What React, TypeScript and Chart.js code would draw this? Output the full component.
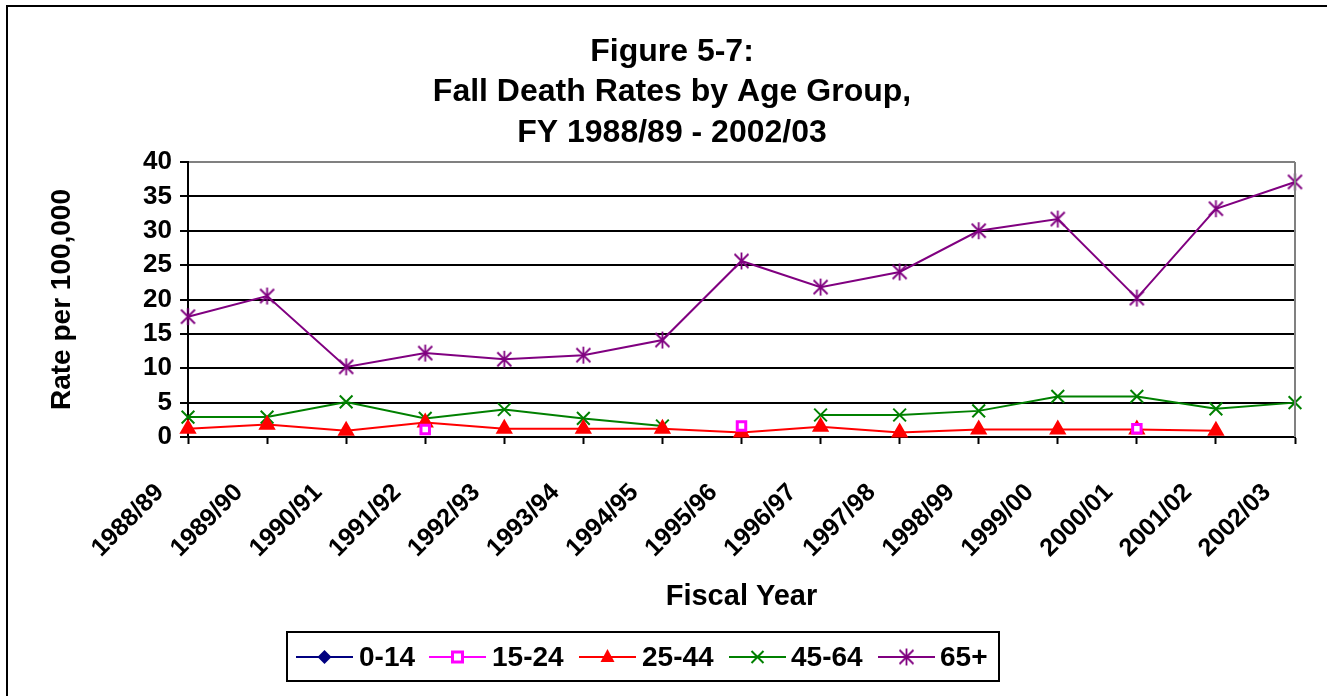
import React, { useEffect, useRef } from 'react';
import { Chart, registerables } from 'chart.js';

Chart.register(...registerables);

const categories = [
  '1988/89', '1989/90', '1990/91', '1991/92', '1992/93', '1993/94', '1994/95', '1995/96',
  '1996/97', '1997/98', '1998/99', '1999/00', '2000/01', '2001/02', '2002/03',
];

const age0to14: (number | null)[] = [null, null, null, null, null, null, null, null, null, null, null, null, null, null, null];
const age15to24: (number | null)[] = [null, null, null, 1.1, null, null, null, 1.6, null, null, null, null, 1.2, null, null];
const age25to44: (number | null)[] = [1.2, 1.8, 0.9, 2.1, 1.2, 1.2, 1.2, 0.65, 1.5, 0.65, 1.1, 1.1, 1.1, 0.9, null];
const age45to64: (number | null)[] = [2.9, 2.9, 5.1, 2.7, 4.0, 2.7, 1.6, null, 3.2, 3.2, 3.8, 5.9, 5.9, 4.1, 5.0];
const age65plus: (number | null)[] = [17.5, 20.5, 10.2, 12.2, 11.3, 11.9, 14.1, 25.6, 21.8, 24.0, 30.0, 31.7, 20.2, 33.2, 37.1];

const seriesNames = ['0-14', '15-24', '25-44', '45-64', '65+'];
const seriesColors = ['#000080', '#FF00FF', '#FF0000', '#008000', '#800080'];

const titleLines = ['Figure 5-7:', 'Fall Death Rates by Age Group,', 'FY 1988/89 - 2002/03'];
const yAxisTitle = 'Rate per 100,000';
const xAxisTitle = 'Fiscal Year';
const yTickValues = [0, 5, 10, 15, 20, 25, 30, 35, 40];
const yMin = 0;
const yMax = 40;

const FONT = '"Liberation Sans", Arial, sans-serif';

function makeStar(color: string): HTMLCanvasElement {
  const c = document.createElement('canvas');
  c.width = 19;
  c.height = 19;
  const g = c.getContext('2d')!;
  g.strokeStyle = color;
  g.lineWidth = 1.8;
  g.beginPath();
  g.moveTo(2.5, 2.5); g.lineTo(16.5, 16.5);
  g.moveTo(16.5, 2.5); g.lineTo(2.5, 16.5);
  g.moveTo(9.5, 1); g.lineTo(9.5, 18);
  g.stroke();
  return c;
}

export default function App() {
  const ref = useRef<HTMLCanvasElement>(null);

  useEffect(() => {
    document.body.style.margin = '0';
    const star = makeStar(seriesColors[4]);

    const drawMarker = (ctx: CanvasRenderingContext2D, idx: number, x: number, y: number) => {
      const col = seriesColors[idx];
      ctx.save();
      ctx.fillStyle = col;
      ctx.strokeStyle = col;
      if (idx === 0) {
        ctx.beginPath();
        ctx.moveTo(x, y - 7); ctx.lineTo(x + 7, y); ctx.lineTo(x, y + 7); ctx.lineTo(x - 7, y);
        ctx.closePath(); ctx.fill();
      } else if (idx === 1) {
        ctx.fillStyle = '#fff';
        ctx.fillRect(x - 5, y - 5, 10, 10);
        ctx.lineWidth = 3;
        ctx.strokeRect(x - 5, y - 5, 10, 10);
      } else if (idx === 2) {
        ctx.beginPath();
        ctx.moveTo(x, y - 8); ctx.lineTo(x + 7, y + 5); ctx.lineTo(x - 7, y + 5);
        ctx.closePath(); ctx.fill();
      } else if (idx === 3) {
        ctx.lineWidth = 2;
        ctx.beginPath();
        ctx.moveTo(x - 6, y - 6); ctx.lineTo(x + 6, y + 6);
        ctx.moveTo(x + 6, y - 6); ctx.lineTo(x - 6, y + 6);
        ctx.stroke();
      } else {
        ctx.drawImage(star, x - 9.5, y - 9.5);
      }
      ctx.restore();
    };

    const decor = {
      id: 'decor',
      afterDraw(chart: any) {
        const ctx: CanvasRenderingContext2D = chart.ctx;
        const area = chart.chartArea;
        ctx.save();
        // outer frame
        ctx.fillStyle = '#000';
        ctx.fillRect(6, 5, 2, 700);
        ctx.fillRect(6, 5, 1330, 2);
        // plot right border
        ctx.strokeStyle = '#808080';
        ctx.lineWidth = 2;
        ctx.beginPath();
        ctx.moveTo(area.right, area.top);
        ctx.lineTo(area.right, area.bottom);
        ctx.stroke();
        // title
        ctx.fillStyle = '#000';
        ctx.font = `bold 32px ${FONT}`;
        ctx.textAlign = 'center';
        ctx.textBaseline = 'middle';
        const ty = [52, 92, 133];
        titleLines.forEach((t, i) => ctx.fillText(t, 672, ty[i]));
        // legend
        ctx.lineWidth = 2;
        ctx.strokeStyle = '#000';
        ctx.strokeRect(287, 632, 712, 49);
        const ly = 657;
        const lineStart = [296, 429, 579, 729, 878];
        const textStart = [359, 492, 642, 791, 940];
        ctx.font = `bold 28px ${FONT}`;
        ctx.textAlign = 'left';
        seriesNames.forEach((name, i) => {
          ctx.strokeStyle = seriesColors[i];
          ctx.lineWidth = 2;
          ctx.beginPath();
          ctx.moveTo(lineStart[i], ly);
          ctx.lineTo(lineStart[i] + 57, ly);
          ctx.stroke();
          drawMarker(ctx, i, lineStart[i] + 28.5, ly);
          ctx.fillStyle = '#000';
          ctx.fillText(name, textStart[i], ly + 1);
        });
        ctx.restore();
      },
    };

    const chart = new Chart(ref.current!, {
      type: 'line',
      data: {
        labels: categories,
        datasets: [
          {
            label: seriesNames[0], data: age0to14, borderColor: seriesColors[0], backgroundColor: seriesColors[0],
            pointStyle: 'rectRot', pointRadius: 7, borderWidth: 2, tension: 0, clip: false,
          },
          {
            label: seriesNames[1], data: age15to24, borderColor: seriesColors[1], backgroundColor: '#fff',
            pointStyle: 'rect', pointRadius: 6, pointBorderWidth: 3, borderWidth: 2, tension: 0, clip: false,
          },
          {
            label: seriesNames[2], data: age25to44, borderColor: seriesColors[2], backgroundColor: seriesColors[2],
            pointStyle: 'triangle', pointRadius: 8, borderWidth: 2, tension: 0, clip: false,
          },
          {
            label: seriesNames[3], data: age45to64, borderColor: seriesColors[3], backgroundColor: seriesColors[3],
            pointStyle: 'crossRot', pointRadius: 9, pointBorderWidth: 2, borderWidth: 2, tension: 0, clip: false,
          },
          {
            label: seriesNames[4], data: age65plus, borderColor: seriesColors[4], backgroundColor: seriesColors[4],
            pointStyle: star as any, pointRadius: 9, borderWidth: 2, tension: 0, clip: false,
          },
        ] as any,
      },
      options: {
        responsive: false,
        animation: false,
        events: [],
        layout: { padding: { top: 162, left: 0, right: 32, bottom: 0 } },
        plugins: {
          legend: { display: false },
          title: { display: false },
          tooltip: { enabled: false },
        },
        scales: {
          x: {
            offset: false,
            grid: { drawOnChartArea: false, drawTicks: true, tickLength: 7, tickColor: '#000', tickWidth: 2 },
            border: { color: '#000', width: 2 },
            ticks: {
              autoSkip: false, maxRotation: 45, minRotation: 45, color: '#000', padding: 34, labelOffset: -28,
              font: { family: FONT, size: 25, weight: 'bold' },
            },
            title: {
              display: true, text: xAxisTitle, color: '#000',
              font: { family: FONT, size: 29, weight: 'bold' }, padding: { top: 0, bottom: 82 },
            },
            afterFit: (s: any) => {
              s.height = 259;
              s.paddingLeft = 0;
              s.paddingRight = 0;
            },
          } as any,
          y: {
            min: yMin,
            max: yMax,
            afterBuildTicks: (s: any) => {
              s.ticks = yTickValues.map((v) => ({ value: v }));
            },
            ticks: { autoSkip: false, color: '#000', padding: 8, font: { family: FONT, size: 26, weight: 'bold' } },
            grid: {
              color: (c: any) => (c.tick && c.tick.value === yMax ? '#808080' : '#000'),
              lineWidth: 2, tickLength: 8, tickColor: '#000', tickWidth: 2,
            },
            border: { color: '#000', width: 2 },
            title: {
              display: true, text: yAxisTitle, color: '#000',
              font: { family: FONT, size: 28, weight: 'bold' }, padding: { top: 45, bottom: 0 },
            },
            afterFit: (s: any) => {
              s.width = 188;
              s.paddingTop = 0;
              s.paddingBottom = 0;
            },
          } as any,
        },
      },
      plugins: [decor],
    });
    return () => chart.destroy();
  }, []);

  return <canvas ref={ref} width={1327} height={696} style={{ display: 'block' }} />;
}
